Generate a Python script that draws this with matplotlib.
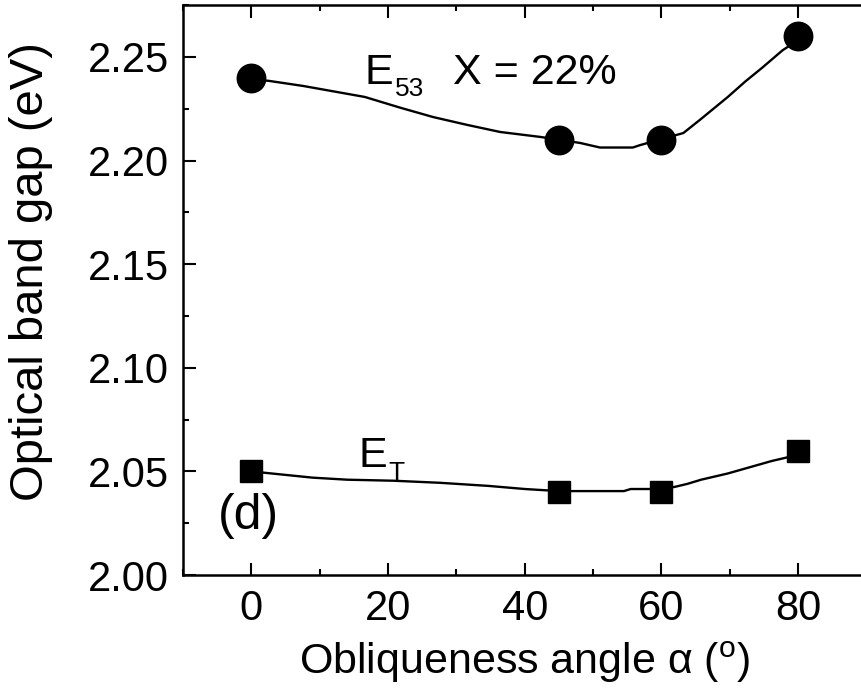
import numpy as np
import matplotlib.pyplot as plt
from matplotlib.ticker import MultipleLocator, FormatStrFormatter

plt.rcParams["font.family"] = ["Liberation Sans", "DejaVu Sans"]
plt.rcParams["mathtext.fontset"] = "custom"
plt.rcParams["mathtext.rm"] = "Liberation Sans"
plt.rcParams["mathtext.it"] = "Liberation Sans:italic"

# measured band gaps vs obliqueness angle
angle = [0, 45, 60, 80]
e53 = [2.24, 2.21, 2.21, 2.26]
et = [2.05, 2.04, 2.04, 2.06]

# guide curves through the points
e53_fit_x = [0, 2.5, 7.6, 16.6, 21.8, 26.6, 31.6, 36.4, 42.3, 48.1, 51.0,
             55.8, 56.9, 63.2, 65.6, 69.7, 72.2, 74.8, 77.7, 79.0]
e53_fit_y = [2.239, 2.2385, 2.236, 2.2307, 2.2255, 2.221, 2.2172, 2.2138,
             2.2114, 2.2085, 2.2063, 2.2063, 2.2075, 2.2133, 2.2196, 2.2307,
             2.238, 2.245, 2.2532, 2.256]
et_fit_x = [0, 8.9, 14, 20.8, 27.6, 34.7, 40, 45, 54.5, 55.5, 58.7, 61.9,
            63.8, 65.8, 69.7, 72.9, 76.1, 78.7]
et_fit_y = [2.05, 2.047, 2.046, 2.0455, 2.0445, 2.043, 2.0415, 2.0405,
            2.0405, 2.0415, 2.0415, 2.0425, 2.044, 2.046, 2.049, 2.052,
            2.055, 2.057]

fig = plt.figure(figsize=(8.62, 6.98), dpi=100)
ax = fig.add_axes([0.2123, 0.1762, 0.7930, 0.8164])

ax.plot(e53_fit_x, e53_fit_y, color="black", lw=1.7)
ax.plot(et_fit_x, et_fit_y, color="black", lw=1.7)
ax.plot(angle, e53, "o", color="black", ms=20.5)
ax.plot(angle, et, "s", color="black", ms=16)

ax.set_xlim(-10, 90)
ax.set_ylim(2.00, 2.275)
ax.xaxis.set_major_locator(MultipleLocator(20))
ax.xaxis.set_minor_locator(MultipleLocator(10))
ax.yaxis.set_major_locator(MultipleLocator(0.05))
ax.yaxis.set_minor_locator(MultipleLocator(0.025))
ax.yaxis.set_major_formatter(FormatStrFormatter("%.2f"))

ax.tick_params(which="both", direction="in", top=True, right=False, width=1.5)
ax.tick_params(which="major", length=9, labelsize=30, pad=10)
ax.tick_params(which="minor", length=4.5)
for s in ax.spines.values():
    s.set_linewidth(1.8)

ax.set_xlabel("Obliqueness angle α ($^{\\mathrm{o}}$)", fontsize=31, labelpad=8)
ax.set_ylabel("Optical band gap (eV)", fontsize=34)
ax.yaxis.set_label_coords(-0.19, 0.532)

ax.text(16.6, 2.237, "E", fontsize=31, ha="left", va="baseline")
ax.text(21.0, 2.231, "53", fontsize=19, ha="left", va="baseline")
ax.text(29.5, 2.237, "X = 22%", fontsize=31, ha="left", va="baseline")
ax.text(15.7, 2.052, "E", fontsize=31, ha="left", va="baseline")
ax.text(20.1, 2.046, "T", fontsize=19, ha="left", va="baseline")
ax.text(-4.9, 2.022, "(d)", fontsize=36, ha="left", va="baseline")

fig.savefig("out.png", dpi=100)
